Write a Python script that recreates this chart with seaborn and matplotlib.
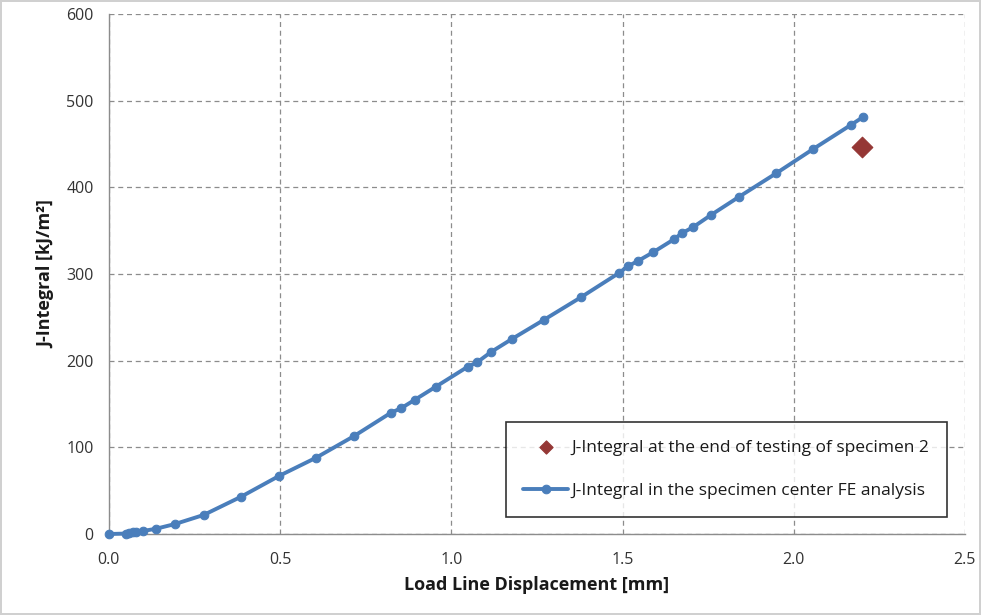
import numpy as np
import pandas as pd
import matplotlib
matplotlib.use("Agg")
import matplotlib.pyplot as plt
import seaborn as sns

# FE analysis curve: load line displacement [mm] vs J-integral [kJ/m^2]
displacement = [0.0, 0.05, 0.06, 0.07, 0.08, 0.10, 0.137, 0.193, 0.277, 0.386,
                0.497, 0.605, 0.716, 0.824, 0.853, 0.894, 0.955, 1.048, 1.075,
                1.116, 1.177, 1.270, 1.378, 1.489, 1.516, 1.545, 1.589, 1.650,
                1.673, 1.706, 1.758, 1.840, 1.948, 2.056, 2.167, 2.202]
j_integral = [0, 0.5, 1, 2, 2.5, 3.5, 6, 11.5, 22, 43,
              67, 88, 113, 140, 145, 155, 170, 193, 198,
              210, 225, 247, 273, 301, 309, 315, 325, 340,
              347, 354, 368, 389, 416, 444, 472, 481]

# test result of specimen 2
test_disp = [2.20]
test_j = [447]

label_test = "J-Integral at the end of testing of specimen 2"
label_fe = "J-Integral in the specimen center FE analysis"

df_fe = pd.DataFrame({"disp": displacement, "J": j_integral})
df_test = pd.DataFrame({"disp": test_disp, "J": test_j})

sns.set_style("white")
plt.rcParams["font.family"] = ["Open Sans", "DejaVu Sans"]

fig = plt.figure(figsize=(9.81, 6.15), dpi=100)
fig.patch.set_edgecolor("#d0d0d0")
fig.patch.set_linewidth(1.5)
ax = fig.add_axes([0.111, 0.1317, 0.8726, 0.8455])

sns.scatterplot(data=df_test, x="disp", y="J", marker="D", s=110,
                color="#953735", edgecolor="#953735", label=label_test, ax=ax,
                zorder=4)
sns.lineplot(data=df_fe, x="disp", y="J", marker="o", markersize=6.2,
             color="#4a7ebb", markeredgecolor="#4a7ebb", linewidth=2.8,
             label=label_fe, ax=ax, sort=False, zorder=3, clip_on=False)

ax.set_xlim(0, 2.5)
ax.set_ylim(0, 600)
ax.set_xticks(np.arange(0, 2.51, 0.5))
ax.set_yticks(np.arange(0, 601, 100))
ax.set_xticklabels([f"{v:.1f}" for v in np.arange(0, 2.51, 0.5)])

ax.grid(True, linestyle=(0, (4, 3)), color="#8c8c8c", linewidth=0.9)
ax.set_axisbelow(True)
for side in ["top", "right"]:
    ax.spines[side].set_visible(False)
for side in ["left", "bottom"]:
    ax.spines[side].set_color("#8c8c8c")
    ax.spines[side].set_linewidth(1.0)

ax.tick_params(axis="both", which="major", direction="out", length=5,
               color="#8c8c8c", labelsize=11.5, labelcolor="#333333", pad=6)
ax.tick_params(axis="x", pad=8)

ax.set_xlabel("Load Line Displacement [mm]", fontsize=13, fontweight="bold",
              color="#1a1a1a", labelpad=6)
ax.set_ylabel("J-Integral [kJ/m²]", fontsize=13, fontweight="bold",
              color="#1a1a1a", labelpad=8)

leg = ax.legend(loc="lower right", bbox_to_anchor=(0.979, 0.033),
                fontsize=12.5, frameon=True, fancybox=False,
                edgecolor="black", borderpad=1.0, labelspacing=1.6,
                handlelength=2.6, handletextpad=0.2, borderaxespad=0)
leg.get_frame().set_linewidth(1.2)
leg.legend_handles[0].set_sizes([45])
for t in leg.get_texts():
    t.set_color("#1a1a1a")

fig.savefig("out.png", dpi=100)
